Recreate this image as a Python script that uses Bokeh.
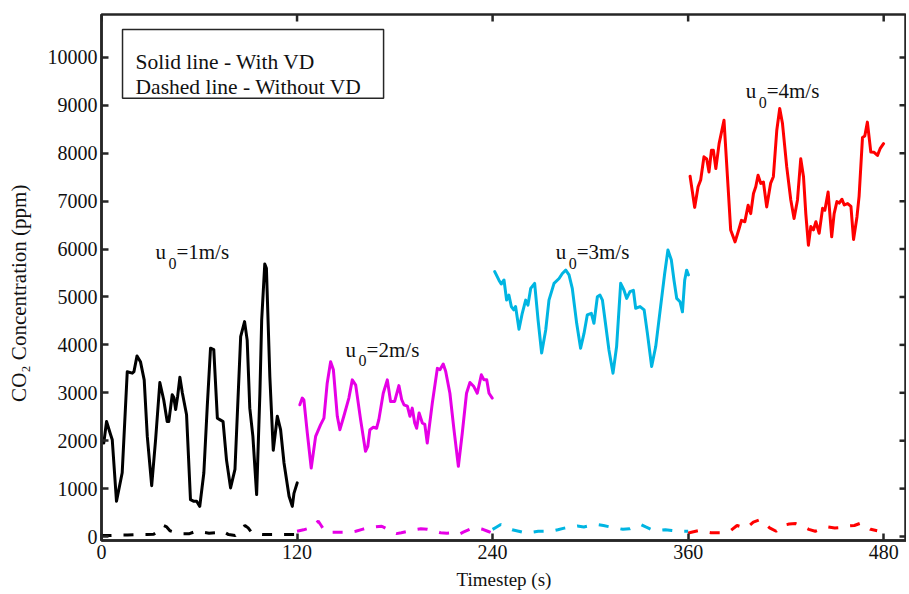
from bokeh.plotting import figure
from bokeh.models import Range1d, FixedTicker, Label, BoxAnnotation
from bokeh.embed import file_html
from bokeh.resources import INLINE

# ---------------- data ----------------
x_ticks = [0, 120, 240, 360, 480]
y_ticks = [0, 1000, 2000, 3000, 4000, 5000, 6000, 7000, 8000, 9000, 10000]

t1 = [1.4, 3.1, 5.6, 6.6, 9.2, 12.7, 15.8, 18.9, 19.9, 21.8, 23.9, 26.2, 28.1, 30.8,
      33.2, 35.8, 38.2, 40.3, 41.3, 43.4, 44.4, 45.5, 46.7, 48.1, 49.6, 52.2, 54.6,
      56.7, 58.4, 60.3, 62.8, 64.9, 66.9, 68.9, 71.1, 73.1, 74.6, 76.7, 79.2, 81.9,
      85.4, 87.8, 89.4, 91.0, 92.9, 95.2, 97.2, 98.3, 100.2, 101.2, 103.3, 105.4,
      107.9, 109.9, 112.0, 115.1, 117.1, 118.1, 120.1]
v1 = [1950, 2400, 2125, 2020, 735, 1330, 3440, 3410, 3440, 3770, 3650, 3270, 2090, 1060,
      2020, 3215, 2850, 2400, 2400, 2960, 2900, 2650, 2920, 3325, 3000, 2540, 770,
      735, 735, 630, 1325, 2715, 3930, 3900, 2470, 2430, 2400, 1600, 1015, 1400,
      4170, 4485, 4100, 2680, 2090, 875, 2990, 4520, 5690, 5600, 3340, 1800,
      2510, 2230, 1535, 840, 630, 900, 1120]

t2 = [121.7, 123.2, 124.2, 126.3, 128.7, 131.4, 134.4, 136.5, 138.5, 140.6, 142.3, 144.7,
      146.3, 148.7, 151.8, 153.9, 156.0, 159.0, 162.0, 163.4, 164.7, 166.8, 168.8, 170.2,
      172.9, 175.4, 177.4, 179.9, 182.5, 184.2, 185.6, 187.7, 189.3, 190.7, 192.2, 193.4,
      194.9, 196.9, 198.4, 199.9, 203.0, 206.1, 207.7, 209.7, 211.2, 213.8, 216.3, 219.0,
      221.4, 224.0, 226.1, 228.5, 230.6, 233.1, 234.7, 236.4, 237.8, 239.8]
v2 = [2750, 2890, 2850, 2160, 1430, 2090, 2330, 2470, 3200, 3650, 3480, 2510,
      2230, 2510, 2890, 3270, 3160, 2440, 1780, 1880, 2230, 2280, 2260, 2440,
      2990, 3270, 2820, 2820, 3150, 2860, 2750, 2720, 2510, 2680, 2370, 2260,
      2580, 2370, 2340, 1950, 2785, 3510, 3480, 3600, 3450, 2990, 2230, 1465,
      2160, 2990, 3215, 3130, 2990, 3375, 3270, 3270, 2990, 2890]

t3 = [241.3, 243.9, 245.3, 247.0, 248.6, 250.0, 251.5, 253.0, 254.1, 256.2, 258.2, 260.3,
      261.7, 263.4, 265.8, 267.9, 270.1, 272.6, 274.6, 277.7, 280.8, 282.8, 284.9, 286.9,
      288.9, 291.6, 294.0, 296.1, 298.1, 300.6, 302.2, 304.3, 305.9, 307.4, 309.4, 311.4,
      313.9, 316.1, 318.6, 320.6, 322.3, 324.3, 326.4, 327.8, 330.5, 333.0, 335.0, 337.6,
      340.1, 343.1, 345.6, 347.6, 349.7, 351.3, 353.0, 355.0, 356.5, 357.9, 359.1, 360.2]
v3 = [5530, 5350, 5270, 5355, 4935, 5040, 4800, 4730, 4800, 4325, 4660, 4935,
      4830, 5180, 5285, 4520, 3830, 4310, 4935, 5285, 5385, 5490, 5560, 5460,
      5180, 4450, 3930, 4240, 4625, 4660, 4450, 5005, 5040, 4935, 4415, 3895,
      3410, 3965, 5285, 5145, 4970, 5110, 5140, 4765, 4800, 4730, 4240, 3550,
      3965, 4800, 5490, 5980, 5770, 5355, 4970, 4900, 4690, 5355, 5560, 5460]

t4 = [361.2, 364.0, 366.1, 367.7, 369.7, 371.4, 372.8, 374.3, 375.5, 377.0, 379.0, 382.0,
      384.5, 386.1, 388.8, 391.3, 392.7, 394.8, 396.8, 398.4, 400.1, 401.5, 402.9, 404.6,
      406.2, 408.2, 410.6, 412.3, 414.4, 416.2, 417.9, 420.5, 423.0, 425.0, 427.1, 429.1,
      430.8, 432.2, 433.8, 435.3, 436.9, 438.4, 440.4, 442.5, 443.9, 445.9, 448.1, 449.6,
      451.3, 452.7, 454.4, 455.8, 457.9, 459.9, 461.5, 463.6, 464.9, 467.0, 468.4, 470.0,
      472.1, 474.1, 476.2, 477.8, 479.9]
v4 = [7520, 6870, 7300, 7440, 7925, 7880, 7610, 8060, 8060, 7680, 8200, 8690,
      7300, 6400, 6150, 6430, 6600, 6570, 6915, 6740, 7160, 7300, 7540, 7370,
      7400, 6880, 7370, 7510, 8480, 8935, 8620, 7715, 7025, 6640, 7025, 7885,
      7510, 6740, 6080, 6470, 6400, 6570, 6330, 6850, 6810, 7190, 6255, 6740,
      6990, 6960, 7040, 6920, 6950, 6890, 6200, 6670, 7100, 8330, 8360, 8650,
      8025, 8020, 7955, 8095, 8200]

td1 = [0, 4, 8, 12, 16, 20, 24, 28, 32, 34, 36, 38, 40, 42, 46, 50, 54, 58, 62, 66, 70,
       74, 78, 82, 86, 88, 90, 92, 96, 100, 104, 108, 112, 116, 120]
vd1 = [20, 20, 25, 30, 30, 35, 40, 40, 45, 90, 170, 230, 200, 120, 80, 60, 60, 110, 90,
       70, 80, 120, 40, 20, 150, 230, 180, 90, 50, 40, 40, 40, 40, 40, 40]

td2 = [120, 124, 128, 131, 133, 135, 137, 140, 144, 148, 152, 156, 160, 164, 168, 172,
       175, 178, 181, 184, 188, 192, 196, 200, 204, 208, 212, 216, 219, 222, 226, 230,
       234, 237, 240]
vd2 = [110, 140, 180, 260, 320, 220, 110, 90, 90, 90, 85, 110, 150, 190, 200, 215,
       160, 90, 60, 80, 110, 140, 160, 150, 120, 80, 70, 80, 40, 90, 150, 180,
       150, 110, 70]

td3 = [240, 242, 245, 248, 252, 256, 260, 264, 268, 272, 276, 280, 284, 288, 292, 296,
       300, 304, 308, 312, 316, 320, 324, 328, 331, 334, 338, 342, 346, 350, 354, 358, 360]
vd3 = [150, 190, 250, 210, 140, 110, 75, 90, 110, 110, 110, 140, 175, 200, 220, 200,
       230, 250, 230, 200, 175, 150, 160, 220, 250, 200, 140, 130, 140, 125, 110, 110, 110]

td4 = [360, 362, 366, 370, 374, 378, 382, 386, 390, 393, 396, 400, 404, 407, 410, 414,
       418, 422, 426, 430, 434, 438, 442, 446, 450, 454, 458, 462, 466, 469, 472, 476]
vd4 = [70, 90, 120, 100, 80, 80, 80, 120, 230, 200, 180, 300, 350, 270, 180, 110,
       230, 260, 270, 220, 150, 110, 160, 200, 180, 190, 220, 230, 280, 210, 150, 120]

speeds = ["1", "2", "3", "4"]
colors = ["#000000", "#E600E6", "#00B5E2", "#FF0000"]

# ---------------- figure ----------------
FONT = "Liberation Serif"
AX = "#262626"
TXT = "#111111"
PX_S = 1.629     # px per second
PX_V = 0.048     # px per ppm
X_MIN, X_MAX = 0, 494
Y_MIN, Y_MAX = -83, 10896

p = figure(width=906, height=592, x_range=Range1d(X_MIN, X_MAX), y_range=Range1d(Y_MIN, Y_MAX),
           output_backend="svg", toolbar_location=None,
           min_border_left=101, min_border_right=0, min_border_top=14, min_border_bottom=50)
p.xgrid.visible = False
p.ygrid.visible = False
p.outline_line_color = AX
p.outline_line_width = 2.5

p.xaxis.ticker = FixedTicker(ticks=x_ticks)
p.yaxis.ticker = FixedTicker(ticks=y_ticks)
p.xaxis.axis_label = "Timestep (s)"
p.yaxis.axis_label = "CO\u2082 Concentration (ppm)" + "\u00a0" * 6

for ax in [p.xaxis[0], p.yaxis[0]]:
    ax.axis_line_color = AX
    ax.axis_line_width = 2.5
    ax.major_tick_line_color = AX
    ax.major_tick_line_width = 2.5
    ax.major_tick_in = 7
    ax.major_tick_out = 0
    ax.minor_tick_line_color = None
    ax.major_label_text_font = FONT
    ax.major_label_text_font_size = "20px"
    ax.major_label_text_color = TXT
    ax.axis_label_text_font = FONT
    ax.axis_label_text_font_size = "21px"
    ax.axis_label_text_font_style = "normal"
    ax.axis_label_text_color = TXT
    ax.major_label_standoff = 4
p.xaxis.axis_label_text_font_size = "19px"
p.xaxis.axis_label_standoff = 7
p.yaxis.axis_label_standoff = 14

# mirrored inward ticks on the top and right edges of the box
tick_dy = 7 / PX_V
tick_dx = 7 / PX_S
p.segment(x0=x_ticks, y0=[Y_MAX] * len(x_ticks), x1=x_ticks, y1=[Y_MAX - tick_dy] * len(x_ticks),
          line_color=AX, line_width=2.5)
p.segment(x0=[X_MAX] * len(y_ticks), y0=y_ticks, x1=[X_MAX - tick_dx] * len(y_ticks), y1=y_ticks,
          line_color=AX, line_width=2.5)

# ---------------- lines ----------------
solid = [(t1, v1), (t2, v2), (t3, v3), (t4, v4)]
dashed = [(td1, vd1), (td2, vd2), (td3, vd3), (td4, vd4)]
for (ts, vs), c in zip(solid, colors):
    p.line(ts, vs, line_color=c, line_width=3, line_join="round", line_cap="round")
for (ts, vs), c in zip(dashed, colors):
    p.line(ts, vs, line_color=c, line_width=3, line_dash="10 12")

# ---------------- annotations ----------------
box = BoxAnnotation(left=12.9, right=173.1, top=10583, bottom=9146,
                    fill_color="white", fill_alpha=1.0,
                    line_color=AX, line_alpha=1.0, line_width=1.5)
p.add_layout(box)
p.add_layout(Label(x=20.9, y=9896, text="Solid line - With VD", text_font=FONT,
                   text_font_size="21.5px", text_color=TXT, text_baseline="alphabetic"))
p.add_layout(Label(x=20.9, y=9375, text="Dashed line - Without VD", text_font=FONT,
                   text_font_size="21.5px", text_color=TXT, text_baseline="alphabetic"))

ann_pos = [(33.1, 5937), (149.8, 3896), (278.7, 5937), (395.3, 9292)]
for (tx, vy), s in zip(ann_pos, speeds):
    p.add_layout(Label(x=tx, y=vy, text="u", text_font=FONT, text_font_size="21px",
                       text_color=TXT, text_baseline="alphabetic"))
    p.add_layout(Label(x=tx + 13 / PX_S, y=vy - 11 / PX_V, text="0", text_font=FONT,
                       text_font_size="16px", text_color=TXT, text_baseline="alphabetic"))
    p.add_layout(Label(x=tx + 21 / PX_S, y=vy, text="=" + s + "m/s", text_font=FONT,
                       text_font_size="21px", text_color=TXT, text_baseline="alphabetic"))

open("out.html", "w").write(file_html(p, INLINE))
